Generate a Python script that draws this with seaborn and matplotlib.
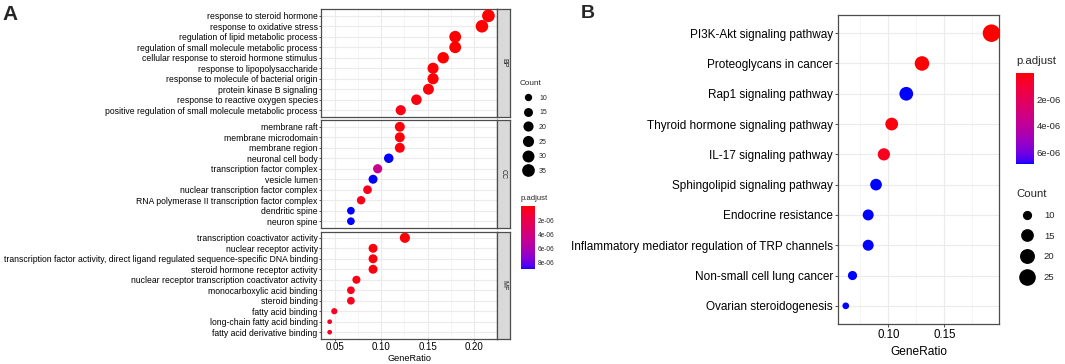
import numpy as np
import pandas as pd
import matplotlib
matplotlib.use("Agg")
import matplotlib.pyplot as plt
import matplotlib.cm as cm
from matplotlib.colors import LinearSegmentedColormap, Normalize
from matplotlib.lines import Line2D
import seaborn as sns

# ---------------- data ----------------
bp_terms = ["response to steroid hormone", "response to oxidative stress",
            "regulation of lipid metabolic process",
            "regulation of small molecule metabolic process",
            "cellular response to steroid hormone stimulus",
            "response to lipopolysaccharide", "response to molecule of bacterial origin",
            "protein kinase B signaling", "response to reactive oxygen species",
            "positive regulation of small molecule metabolic process"]
bp_ratio = [0.216, 0.209, 0.180, 0.180, 0.167, 0.156, 0.156, 0.151, 0.138, 0.121]
bp_count = [35, 34, 29, 29, 27, 25, 25, 24, 22, 20]
bp_padj = [2e-9, 5e-8, 1e-8, 1e-8, 3e-8, 1e-7, 1e-7, 2e-7, 3e-7, 4e-7]

cc_terms = ["membrane raft", "membrane microdomain", "membrane region",
            "neuronal cell body", "transcription factor complex", "vesicle lumen",
            "nuclear transcription factor complex",
            "RNA polymerase II transcription factor complex",
            "dendritic spine", "neuron spine"]
cc_ratio = [0.120, 0.120, 0.120, 0.108, 0.096, 0.091, 0.085, 0.078, 0.067, 0.067]
cc_count = [19, 19, 19, 17, 16, 15, 14, 13, 11, 11]
cc_padj = [1e-7, 1e-7, 2e-7, 8.9e-6, 4.6e-6, 8.9e-6, 5e-7, 4e-7, 8.9e-6, 8.9e-6]

mf_terms = ["transcription coactivator activity", "nuclear receptor activity",
            "transcription factor activity, direct ligand regulated sequence-specific DNA binding",
            "steroid hormone receptor activity",
            "nuclear receptor transcription coactivator activity",
            "monocarboxylic acid binding", "steroid binding", "fatty acid binding",
            "long-chain fatty acid binding", "fatty acid derivative binding"]
mf_ratio = [0.1255, 0.091, 0.091, 0.091, 0.073, 0.067, 0.067, 0.049, 0.044, 0.044]
mf_count = [20, 15, 15, 15, 12, 11, 11, 8, 7, 7]
mf_padj = [1e-7, 2e-7, 2e-7, 2e-7, 3e-7, 5e-7, 5e-7, 6e-7, 8e-7, 8e-7]

ont_labels = ["BP", "CC", "MF"]

kegg_terms = ["PI3K-Akt signaling pathway", "Proteoglycans in cancer",
              "Rap1 signaling pathway", "Thyroid hormone signaling pathway",
              "IL-17 signaling pathway", "Sphingolipid signaling pathway",
              "Endocrine resistance", "Inflammatory mediator regulation of TRP channels",
              "Non-small cell lung cancer", "Ovarian steroidogenesis"]
kegg_ratio = [0.192, 0.130, 0.116, 0.103, 0.096, 0.089, 0.082, 0.082, 0.068, 0.062]
kegg_count = [28, 19, 17, 15, 14, 13, 12, 12, 10, 9]
kegg_padj = [5e-9, 5e-8, 6.86e-6, 2e-7, 4e-7, 6.86e-6, 6.86e-6, 6.86e-6, 6.86e-6, 6.86e-6]

a_count_breaks = [10, 15, 20, 25, 30, 35]
a_padj_breaks = [2e-6, 4e-6, 6e-6, 8e-6]
b_count_breaks = [10, 15, 20, 25]
b_padj_breaks = [2e-6, 4e-6, 6e-6]

# ---------------- style helpers ----------------
sns.set_theme(style="white")
plt.rcParams['font.family'] = ['Liberation Sans', 'DejaVu Sans']

W, H = 1065, 364
fig = plt.figure(figsize=(W / 100, H / 100), dpi=100)
fig.patch.set_facecolor("white")


def rect(x0, y0, x1, y1):
    return [x0 / W, 1 - y1 / H, (x1 - x0) / W, (y1 - y0) / H]


def _srgb_to_lab(rgb):
    c = np.asarray(rgb, float)
    lin = np.where(c <= 0.04045, c / 12.92, ((c + 0.055) / 1.055) ** 2.4)
    M = np.array([[0.4124, 0.3576, 0.1805], [0.2126, 0.7152, 0.0722], [0.0193, 0.1192, 0.9505]])
    xyz = M @ lin / np.array([0.95047, 1.0, 1.08883])
    d = 6 / 29
    f = np.where(xyz > d ** 3, np.cbrt(xyz), xyz / (3 * d * d) + 4 / 29)
    return np.array([116 * f[1] - 16, 500 * (f[0] - f[1]), 200 * (f[1] - f[2])])


def _lab_to_srgb(lab):
    L, a, b = lab
    fy = (L + 16) / 116
    fx = fy + a / 500
    fz = fy - b / 200
    d = 6 / 29
    fs = np.array([fx, fy, fz])
    xyz = np.where(fs > d, fs ** 3, 3 * d * d * (fs - 4 / 29)) * np.array([0.95047, 1.0, 1.08883])
    Minv = np.linalg.inv(np.array([[0.4124, 0.3576, 0.1805], [0.2126, 0.7152, 0.0722], [0.0193, 0.1192, 0.9505]]))
    lin = np.clip(Minv @ xyz, 0, 1)
    return np.clip(np.where(lin <= 0.0031308, 12.92 * lin, 1.055 * lin ** (1 / 2.4) - 0.055), 0, 1)


lab_lo = _srgb_to_lab([1, 0, 0])
lab_hi = _srgb_to_lab([0, 0, 1])
cols = [_lab_to_srgb(lab_lo + (lab_hi - lab_lo) * t) for t in np.linspace(0, 1, 64)]
cmap = LinearSegmentedColormap.from_list("red_blue_lab", cols)


def size_dict(counts, dmin_px, dmax_px, lo, hi):
    out = {}
    for c in counts:
        t = (c - lo) / (hi - lo)
        d = dmin_px + (dmax_px - dmin_px) * np.sqrt(max(t, 0))
        out[c] = (d * 0.72) ** 2
    return out


def diam_pt(c, dmin_px, dmax_px, lo, hi):
    t = (c - lo) / (hi - lo)
    return (dmin_px + (dmax_px - dmin_px) * np.sqrt(max(t, 0))) * 0.72


def dotpanel(ax, terms, ratio, count, padj, hue_norm, sizes, xlim, major, minor,
             fs_y, tick_len, tick_pad):
    df = pd.DataFrame({"term": terms, "GeneRatio": ratio, "Count": count, "p.adjust": padj})
    sns.scatterplot(data=df, x="GeneRatio", y="term", hue="p.adjust", size="Count",
                    palette=cmap, hue_norm=hue_norm, sizes=sizes, legend=False,
                    linewidth=0, ax=ax, zorder=3)
    n = len(terms)
    ax.set_ylim(n - 0.4, -0.6)
    ax.set_xlim(*xlim)
    ax.set_xticks(major)
    ax.set_xticks(minor, minor=True)
    ax.set_yticks(range(n))
    ax.set_yticklabels(terms, fontsize=fs_y, color="black")
    ax.grid(True, which="major", color="#EBEBEB", lw=0.8)
    ax.grid(True, which="minor", axis="x", color="#F2F2F2", lw=0.5)
    ax.set_axisbelow(True)
    ax.set_facecolor("white")
    for s in ax.spines.values():
        s.set_visible(True)
        s.set_color("#4D4D4D")
        s.set_linewidth(0.9)
    ax.tick_params(axis="both", which="major", length=tick_len, width=0.6,
                   color="#333333", pad=tick_pad, left=True, bottom=True)
    ax.tick_params(which="minor", length=0)
    ax.set_ylabel("")
    ax.set_xlabel("")


# ---------------- Panel A ----------------
a_all_counts = bp_count + cc_count + mf_count
a_all_padj = bp_padj + cc_padj + mf_padj
a_lo, a_hi = min(a_all_counts), max(a_all_counts)
a_dmin, a_dmax = 4.7, 12.7
a_sizes = size_dict(sorted(set(a_all_counts)), a_dmin, a_dmax, a_lo, a_hi)
a_norm = (min(a_all_padj), 8.9e-6)

facet_y = [(9.5, 116.5), (120.5, 227.5), (231.5, 338.5)]
facets = [(bp_terms, bp_ratio, bp_count, bp_padj),
          (cc_terms, cc_ratio, cc_count, cc_padj),
          (mf_terms, mf_ratio, mf_count, mf_padj)]
a_xlim = (0.0346, 0.2253)
for i, ((y0, y1), (terms, ratio, count, padj)) in enumerate(zip(facet_y, facets)):
    ax = fig.add_axes(rect(321, y0, 497, y1))
    dotpanel(ax, terms, ratio, count, padj, a_norm, a_sizes, a_xlim,
             [0.05, 0.10, 0.15, 0.20], [0.075, 0.125, 0.175],
             fs_y=6.2, tick_len=1.6, tick_pad=0.8)
    if i < 2:
        ax.tick_params(axis="x", bottom=False, labelbottom=False)
    else:
        ax.set_xticklabels(["0.05", "0.10", "0.15", "0.20"], fontsize=7.0, color="black")
        ax.set_xlabel("GeneRatio", fontsize=6.6, color="black", labelpad=1.8)
    sax = fig.add_axes(rect(497, y0, 510, y1))
    sax.set_facecolor("#D9D9D9")
    sax.set_xticks([])
    sax.set_yticks([])
    for s in sax.spines.values():
        s.set_visible(True)
        s.set_color("#4D4D4D")
        s.set_linewidth(0.9)
    sax.text(0.5, 0.5, ont_labels[i], rotation=-90, ha="center", va="center",
             fontsize=5, color="#1A1A1A", transform=sax.transAxes)

fig.text(2 / W, 1 - 15 / H, "A", fontsize=15, fontweight="bold", ha="left", va="center")

# Panel A legends
a_handles = [Line2D([0], [0], marker="o", ls="", color="black", markeredgewidth=0,
                    markersize=diam_pt(c, a_dmin, a_dmax, a_lo, a_hi)) for c in a_count_breaks]
legA = fig.legend(a_handles, [str(c) for c in a_count_breaks], title="Count",
                  loc="upper left", bbox_to_anchor=(520 / W, 1 - 80 / H), frameon=False,
                  fontsize=5, title_fontsize=5.9, labelspacing=1.1, handletextpad=0.45,
                  handlelength=2.3, borderpad=0, borderaxespad=0, alignment="left")

caxA = fig.add_axes(rect(521, 206, 535, 269.3))
smA = cm.ScalarMappable(norm=Normalize(*a_norm), cmap=cmap)
cbA = fig.colorbar(smA, cax=caxA)
cbA.outline.set_visible(False)
caxA.invert_yaxis()
cbA.set_ticks(a_padj_breaks)
cbA.set_ticklabels(["2e-06", "4e-06", "6e-06", "8e-06"])
caxA.tick_params(length=2.5, width=0.6, color="white", direction="in", labelsize=4.7, pad=2,
                 left=True, right=True)
fig.text(521 / W, 1 - 198.5 / H, "p.adjust", fontsize=5.6, ha="left", va="center")

# ---------------- Panel B ----------------
b_lo, b_hi = min(kegg_count), max(kegg_count)
b_dmin, b_dmax = 6.7, 17.5
b_sizes = size_dict(sorted(set(kegg_count)), b_dmin, b_dmax, b_lo, b_hi)
b_norm = (min(kegg_padj), max(kegg_padj))

axB = fig.add_axes(rect(837.7, 15, 999.3, 324))
dotpanel(axB, kegg_terms, kegg_ratio, kegg_count, kegg_padj, b_norm, b_sizes,
         (0.0548, 0.199), [0.10, 0.15], [0.075, 0.125, 0.175],
         fs_y=8.5, tick_len=2.2, tick_pad=1.3)
axB.set_xticklabels(["0.10", "0.15"], fontsize=8.3, color="black")
axB.set_xlabel("GeneRatio", fontsize=8.6, color="black", labelpad=3.5)
fig.text(581 / W, 1 - 13.5 / H, "B", fontsize=14, fontweight="bold", ha="left", va="center")

caxB = fig.add_axes(rect(1016, 72.7, 1034, 164))
smB = cm.ScalarMappable(norm=Normalize(*b_norm), cmap=cmap)
cbB = fig.colorbar(smB, cax=caxB)
cbB.outline.set_visible(False)
caxB.invert_yaxis()
cbB.set_ticks(b_padj_breaks)
cbB.set_ticklabels(["2e-06", "4e-06", "6e-06"])
caxB.tick_params(length=3.5, width=0.7, color="white", direction="in", labelsize=6.8, pad=2,
                 left=True, right=True)
fig.text(1016 / W, 1 - 61.5 / H, "p.adjust", fontsize=8.2, ha="left", va="center")

b_handles = [Line2D([0], [0], marker="o", ls="", color="black", markeredgewidth=0,
                    markersize=diam_pt(c, b_dmin, b_dmax, b_lo, b_hi)) for c in b_count_breaks]
legB = fig.legend(b_handles, [str(c) for c in b_count_breaks], title="Count",
                  loc="upper left", bbox_to_anchor=(1016 / W, 1 - 189 / H), frameon=False,
                  fontsize=6.8, title_fontsize=8.2, labelspacing=1.25, handletextpad=0.7,
                  handlelength=2.26, borderpad=0, borderaxespad=0, alignment="left")

fig.savefig("out.png", dpi=100, facecolor="white")
